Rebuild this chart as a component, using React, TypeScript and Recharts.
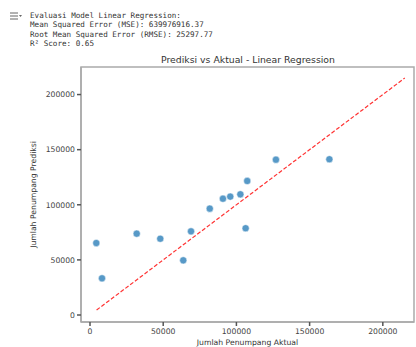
import { ScatterChart, Scatter, XAxis, YAxis, ReferenceLine, ReferenceArea, Label } from "recharts";

const actual = [4300, 8200, 31900, 48000, 63700, 69000, 81800, 90800, 95800, 102700, 107400, 106300, 127000, 163500];
const predicted = [65300, 33300, 73800, 69200, 49600, 75900, 96500, 105500, 107400, 109500, 121600, 78700, 140900, 141300];
const ticks = [0, 50000, 100000, 150000, 200000];
const idealLine = [4500, 215000];
const xDomain = [-6150, 221300];
const yDomain = [-6350, 225000];
const outputLines = [
  "Evaluasi Model Linear Regression:",
  "Mean Squared Error (MSE): 639976916.37",
  "Root Mean Squared Error (RMSE): 25297.77",
  "R\u00b2 Score: 0.65",
];

const points = actual.map((a, i) => ({ x: a, y: predicted[i] }));

const font = "'DejaVu Sans', sans-serif";
const tickStyle = { fontSize: 7.7, fill: "#444", fontFamily: font };

export default function App() {
  return (
    <div style={{ position: "absolute", left: 0, top: 0, width: 416, height: 347, background: "#fff" }}>
      <svg width={14} height={10} style={{ position: "absolute", left: 9, top: 11 }}>
        <line x1={1} y1={2} x2={9} y2={2} stroke="#666" strokeWidth={1} />
        <line x1={1} y1={5} x2={9} y2={5} stroke="#666" strokeWidth={1} />
        <line x1={1} y1={8} x2={9} y2={8} stroke="#666" strokeWidth={1} />
        <path d="M10 4 L13 4 L11.5 6 Z" fill="#666" />
      </svg>
      <div
        style={{
          position: "absolute",
          left: 30,
          top: 10.5,
          fontFamily: "'DejaVu Sans Mono', monospace",
          fontSize: 7.6,
          lineHeight: "9.5px",
          color: "#333",
          whiteSpace: "pre",
        }}
      >
        {outputLines.map((l) => (
          <div key={l}>{l}</div>
        ))}
      </div>
      <div
        style={{
          position: "absolute",
          left: 0,
          top: 54,
          width: 416,
          textAlign: "center",
          paddingLeft: 80,
          boxSizing: "border-box",
          fontFamily: font,
          fontSize: 9.3,
          color: "#333",
        }}
      >
        Prediksi vs Aktual - Linear Regression
      </div>
      <ScatterChart width={416} height={347} margin={{ top: 67, right: 2, left: 0, bottom: 0 }}>
        <XAxis
          type="number"
          dataKey="x"
          domain={xDomain}
          ticks={ticks}
          allowDataOverflow
          height={25}
          tickSize={4}
          tickMargin={3}
          tick={tickStyle}
          stroke="#aaa"
          strokeWidth={1.5}
          tickLine={{ stroke: "#555" }}
        >
          <Label
            value="Jumlah Penumpang Aktual"
            position="insideBottom"
            offset={2}
            style={{ fontSize: 7.7, fill: "#333", fontFamily: font }}
          />
        </XAxis>
        <YAxis
          type="number"
          dataKey="y"
          domain={yDomain}
          ticks={ticks}
          allowDataOverflow
          width={81}
          tickSize={4}
          tickMargin={2}
          tick={tickStyle}
          stroke="#aaa"
          strokeWidth={1.5}
          tickLine={{ stroke: "#555" }}
        >
          <Label
            value="Jumlah Penumpang Prediksi"
            angle={-90}
            position="insideLeft"
            offset={33}
            style={{ fontSize: 7.7, fill: "#333", fontFamily: font, textAnchor: "middle" }}
          />
        </YAxis>
        <ReferenceArea
          x1={xDomain[0]}
          x2={xDomain[1]}
          y1={yDomain[0]}
          y2={yDomain[1]}
          fill="none"
          stroke="#aaa"
          strokeWidth={1.5}
          ifOverflow="visible"
        />
        <ReferenceLine
          segment={[
            { x: idealLine[0], y: idealLine[0] },
            { x: idealLine[1], y: idealLine[1] },
          ]}
          stroke="#ff3333"
          strokeWidth={1.2}
          strokeDasharray="4 2"
          ifOverflow="visible"
        />
        <Scatter
          data={points}
          fill="#1f77b4"
          isAnimationActive={false}
          shape={(p: any) => <circle cx={p.cx} cy={p.cy} r={3.6} fill="#1f77b4" fillOpacity={0.75} stroke="#fff" strokeWidth={0.5} />}
        />
      </ScatterChart>
    </div>
  );
}
